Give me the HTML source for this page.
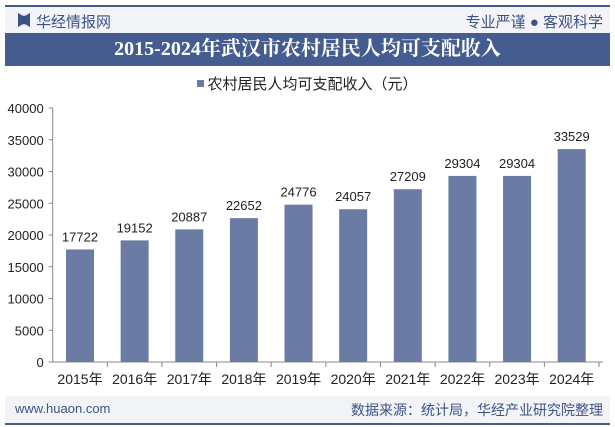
<!DOCTYPE html>
<html><head><meta charset="utf-8"><style>
body{margin:0;width:615px;height:427px;background:#fff;font-family:"Liberation Sans","Noto Sans CJK SC",sans-serif;overflow:hidden;position:relative}
.a{position:absolute}
</style></head><body>
<div class="a" style="left:5px;top:5px;width:605px;height:2px;background:#455c91"></div>
<div class="a" style="left:5px;top:7px;width:605px;height:26px;background:#f2f4f8"></div>
<div class="a" style="left:18px;top:13px;width:12px;height:14px;background:#3d5187;clip-path:polygon(0 0,40% 20%,60% 20%,100% 0,100% 100%,60% 80%,40% 80%,0 100%)"></div>
<div class="a" style="left:36px;top:11px;font-size:15px;color:#3d5187">华经情报网</div>
<div class="a" style="right:12px;top:11px;font-size:15px;color:#3d5187">专业严谨 ● 客观科学</div>
<div class="a" style="left:5px;top:33px;width:605px;height:33px;background:#455c91;color:#fff;font-family:'Liberation Serif','Noto Serif CJK SC',serif;font-weight:bold;font-size:20px;line-height:33px;text-align:center">2015-2024年武汉市农村居民人均可支配收入</div>
<div class="a" style="left:0;width:615px;top:73px;text-align:center;font-size:15px;color:#222"><span style="display:inline-block;width:7px;height:7px;background:#6a7ca4;margin-right:3px;vertical-align:2px"></span>农村居民人均可支配收入（元）</div>
<svg class="a" style="left:0;top:0" width="615" height="427" id="chart"></svg>
<div class="a" style="left:5px;top:396px;width:605px;height:27px;background:#f2f4f8"></div>
<div class="a" style="left:5px;top:423px;width:605px;height:2px;background:#455c91"></div>
<div class="a" style="left:15px;top:401px;font-size:13px;color:#3d5187">www.huaon.com</div>
<div class="a" style="right:12px;top:400px;font-size:14px;color:#3d5187">数据来源：统计局，华经产业研究院整理</div>
<script>
const categories=["2015年","2016年","2017年","2018年","2019年","2020年","2021年","2022年","2023年","2024年"];
const values=[17722,19152,20887,22652,24776,24057,27209,29304,29304,33529];
const yTicks=[0,5000,10000,15000,20000,25000,30000,35000,40000];
const NS="http://www.w3.org/2000/svg",svg=document.getElementById('chart');
const x0=52.7,x1=599,yb=362,yt=108,ymax=40000;
const bw=(x1-x0)/categories.length;
const y=v=>yb-(v/ymax)*(yb-yt);
const xc=i=>x0+bw*(i+0.5);
function mk(t,a){const e=document.createElementNS(NS,t);for(const k in a)e.setAttribute(k,a[k]);svg.appendChild(e);return e;}
yTicks.forEach(t=>{
 const l=mk('line',{x1:x0-4,x2:x0,y1:y(t),y2:y(t),stroke:'#888'});
 
 
 const tx=mk('text',{x:x0-9,y:y(t)+5,'text-anchor':'end','font-size':13,fill:'#222','font-family':'Liberation Sans'});
 tx.textContent=t;
 
 
});
const ax=mk('line',{x1:x0,x2:x0,y1:yt,y2:yb,stroke:'#888'});


const xa=mk('line',{x1:x0,x2:x1+4,y1:yb,y2:yb,stroke:'#888'});


categories.forEach((c,i)=>{
 const r=mk('rect',{x:xc(i)-14,y:y(values[i]),width:28,height:yb-y(values[i]),fill:'#6a7ca4'});
 
 
 const v=mk('text',{x:xc(i),y:y(values[i])-8,'text-anchor':'middle','font-size':13,fill:'#222','font-family':'Liberation Sans'});
 v.textContent=values[i];
 
 
 const tk=mk('line',{x1:x0+bw*(i+1),x2:x0+bw*(i+1),y1:yb,y2:yb+5,stroke:'#888'});
 
 
 const t=mk('text',{x:xc(i),y:yb+22,'text-anchor':'middle','font-size':14,fill:'#222','font-family':'Liberation Sans, Noto Sans CJK SC, sans-serif'});
 t.textContent=c;
 
 
});
</script>
</body></html>
